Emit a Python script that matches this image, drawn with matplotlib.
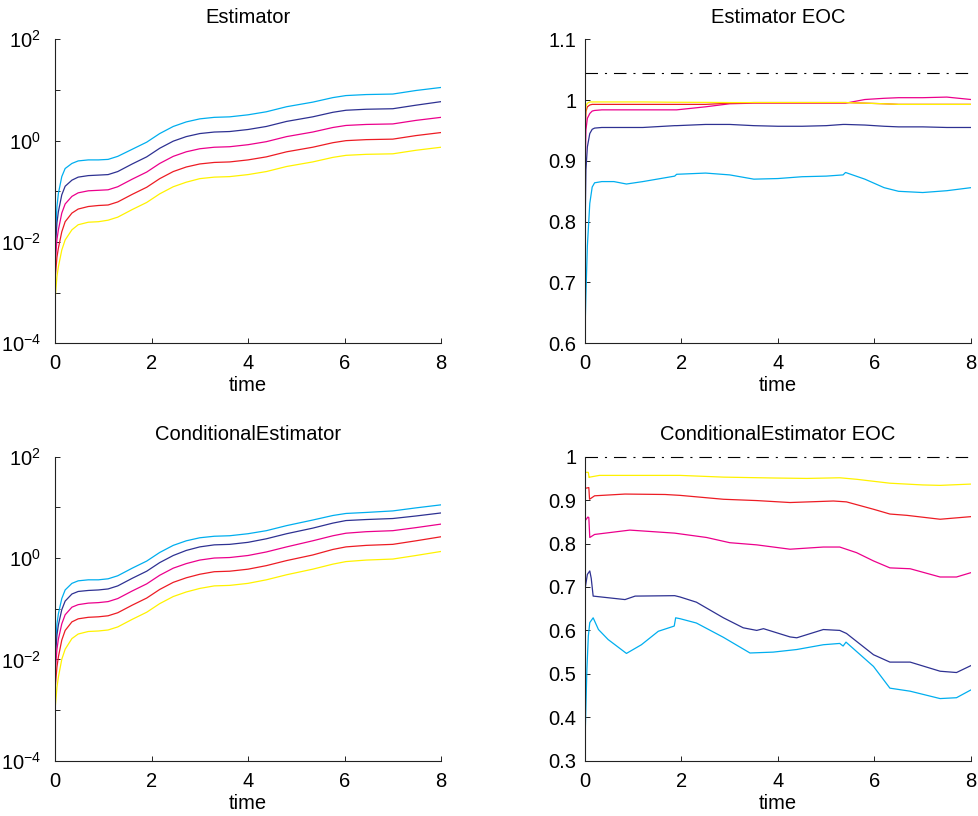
import numpy as np
import matplotlib
matplotlib.use('Agg')
import matplotlib.pyplot as plt
from matplotlib.ticker import FixedLocator, FuncFormatter, NullFormatter

plt.rcParams['font.family'] = ['Liberation Sans', 'DejaVu Sans']
plt.rcParams['mathtext.fontset'] = 'custom'
plt.rcParams['mathtext.rm'] = 'Liberation Sans'
plt.rcParams['mathtext.it'] = 'Liberation Sans:italic'
plt.rcParams['lines.scale_dashes'] = False

colors = ['#00AEEF', '#2E3192', '#EC008C', '#ED1C24', '#FFF200']
FS = 14.5

# ---- log-scale panels: time grid and log10 of the estimator values ----
t_log = [0, 0.04, 0.07, 0.14, 0.21, 0.35, 0.48, 0.69, 0.9, 1.1, 1.3, 1.6, 1.9, 2.17, 2.45,
         2.72, 3.0, 3.3, 3.62, 4.0, 4.38, 4.8, 5.34, 5.76, 6.03, 6.45, 7.0, 7.48, 8.0]

est_cyan = [-2.03, -1.30, -1.04, -0.71, -0.55, -0.45, -0.40, -0.38, -0.38, -0.37, -0.31, -0.17, -0.03, 0.14, 0.28,
            0.37, 0.43, 0.46, 0.47, 0.51, 0.57, 0.67, 0.76, 0.85, 0.89, 0.91, 0.92, 0.99, 1.05]
est_navy = [-2.22, -1.62, -1.40, -1.07, -0.90, -0.78, -0.72, -0.69, -0.68, -0.67, -0.61, -0.46, -0.32, -0.15, -0.01,
            0.08, 0.14, 0.17, 0.18, 0.22, 0.28, 0.38, 0.47, 0.56, 0.60, 0.62, 0.63, 0.70, 0.77]
est_magenta = [-2.49, -1.95, -1.76, -1.43, -1.25, -1.10, -1.03, -0.99, -0.98, -0.97, -0.91, -0.76, -0.62, -0.45, -0.31,
               -0.22, -0.16, -0.13, -0.12, -0.08, -0.02, 0.08, 0.17, 0.26, 0.30, 0.32, 0.33, 0.40, 0.46]
est_red = [-2.75, -2.30, -2.12, -1.80, -1.60, -1.43, -1.35, -1.30, -1.28, -1.27, -1.21, -1.06, -0.92, -0.75, -0.61,
           -0.52, -0.46, -0.43, -0.42, -0.38, -0.32, -0.22, -0.13, -0.04, 0.00, 0.02, 0.03, 0.10, 0.16]
est_yellow = [-3.14, -2.68, -2.49, -2.16, -1.96, -1.76, -1.66, -1.61, -1.60, -1.57, -1.51, -1.36, -1.22, -1.05, -0.91,
              -0.82, -0.75, -0.72, -0.71, -0.67, -0.61, -0.51, -0.42, -0.33, -0.29, -0.27, -0.26, -0.19, -0.13]

cond_cyan = [-1.85, -1.30, -1.10, -0.80, -0.63, -0.50, -0.45, -0.43, -0.43, -0.41, -0.35, -0.20, -0.06, 0.11, 0.25,
             0.34, 0.40, 0.43, 0.44, 0.48, 0.54, 0.64, 0.75, 0.84, 0.88, 0.90, 0.93, 0.99, 1.05]
cond_navy = [-2.05, -1.52, -1.32, -1.02, -0.85, -0.71, -0.66, -0.64, -0.63, -0.61, -0.55, -0.40, -0.26, -0.09, 0.05,
             0.15, 0.22, 0.26, 0.27, 0.31, 0.38, 0.48, 0.59, 0.69, 0.74, 0.76, 0.78, 0.83, 0.89]
cond_magenta = [-2.30, -1.80, -1.60, -1.30, -1.12, -0.97, -0.92, -0.89, -0.88, -0.86, -0.80, -0.65, -0.51, -0.34, -0.20,
                -0.11, -0.04, 0.00, 0.01, 0.05, 0.12, 0.22, 0.34, 0.44, 0.49, 0.52, 0.54, 0.60, 0.67]
cond_red = [-2.60, -2.15, -1.95, -1.62, -1.43, -1.26, -1.20, -1.17, -1.16, -1.14, -1.08, -0.93, -0.79, -0.62, -0.48,
            -0.39, -0.32, -0.27, -0.26, -0.22, -0.15, -0.05, 0.06, 0.17, 0.22, 0.25, 0.27, 0.34, 0.42]
cond_yellow = [-3.00, -2.55, -2.35, -2.00, -1.80, -1.59, -1.50, -1.45, -1.44, -1.42, -1.36, -1.21, -1.07, -0.90, -0.76,
               -0.67, -0.60, -0.55, -0.54, -0.50, -0.43, -0.33, -0.22, -0.12, -0.07, -0.04, -0.02, 0.05, 0.13]

# ---- Estimator EOC ----
t_eoc = [0, 0.02, 0.05, 0.1, 0.15, 0.2, 0.35, 0.6, 0.86, 1.2, 1.86, 1.9, 2.5, 3.0, 3.5, 4.0, 4.5,
         5.0, 5.35, 5.4, 5.8, 6.2, 6.5, 7.0, 7.5, 8.0]
eoc_cyan = [0.615, 0.68, 0.76, 0.83, 0.857, 0.864, 0.866, 0.866, 0.862, 0.866, 0.875, 0.878, 0.880, 0.877, 0.870,
            0.871, 0.874, 0.875, 0.877, 0.881, 0.870, 0.856, 0.850, 0.848, 0.851, 0.856]
eoc_navy = [0.77, 0.885, 0.923, 0.945, 0.952, 0.954, 0.955, 0.955, 0.955, 0.955, 0.958, 0.958, 0.960, 0.960, 0.958,
            0.957, 0.957, 0.958, 0.960, 0.960, 0.959, 0.957, 0.956, 0.956, 0.955, 0.955]
eoc_magenta = [0.869, 0.951, 0.970, 0.978, 0.982, 0.983, 0.984, 0.984, 0.984, 0.984, 0.984, 0.984, 0.989, 0.994, 0.995,
               0.995, 0.995, 0.995, 0.995, 0.995, 1.001, 1.003, 1.004, 1.004, 1.005, 1.001]
eoc_red = [0.93, 0.981, 0.989, 0.992, 0.993, 0.993, 0.993, 0.993, 0.993, 0.993, 0.993, 0.993, 0.993, 0.995, 0.996,
           0.996, 0.996, 0.996, 0.996, 0.996, 0.995, 0.994, 0.993, 0.993, 0.993, 0.993]
eoc_yellow = [0.95, 0.99, 0.995, 0.997, 0.997, 0.997, 0.997, 0.997, 0.997, 0.997, 0.9965, 0.9965, 0.9963, 0.996, 0.996,
              0.996, 0.996, 0.996, 0.996, 0.996, 0.995, 0.994, 0.993, 0.993, 0.993, 0.993]
eoc_ref = 1.045

# ---- ConditionalEstimator EOC ----
c_t_yellow = [0, 0.07, 0.085, 0.1, 0.3, 0.8, 1.97, 2.87, 3.9, 4.6, 5.28, 5.63, 6.32, 7.0, 7.36, 8.0]
c_eoc_yellow = [0.964, 0.964, 0.952, 0.953, 0.957, 0.957, 0.957, 0.953, 0.951, 0.950, 0.9515, 0.948, 0.939, 0.935,
                0.934, 0.937]
c_t_red = [0, 0.08, 0.095, 0.2, 0.83, 1.66, 1.97, 2.87, 3.56, 4.25, 5.15, 5.42, 5.98, 6.32, 6.67, 7.36, 8.0]
c_eoc_red = [0.927, 0.929, 0.902, 0.910, 0.914, 0.913, 0.911, 0.902, 0.899, 0.8945, 0.898, 0.896, 0.879, 0.868,
             0.865, 0.856, 0.862]
c_t_magenta = [0, 0.06, 0.08, 0.1, 0.2, 0.93, 1.86, 2.52, 3.0, 3.56, 4.25, 4.94, 5.28, 5.63, 5.98, 6.32, 6.74,
               7.36, 7.7, 8.0]
c_eoc_magenta = [0.852, 0.861, 0.860, 0.814, 0.821, 0.831, 0.824, 0.814, 0.802, 0.797, 0.787, 0.792, 0.792, 0.779,
                 0.760, 0.744, 0.742, 0.723, 0.723, 0.733]
c_t_navy = [0, 0.05, 0.1, 0.13, 0.17, 0.83, 1.04, 1.86, 1.97, 2.31, 2.87, 3.28, 3.56, 3.7, 4.25, 4.39, 4.94, 5.28,
            5.42, 5.98, 6.32, 6.74, 7.36, 7.7, 8.0]
c_eoc_navy = [0.694, 0.729, 0.737, 0.72, 0.679, 0.671, 0.679, 0.680, 0.677, 0.665, 0.629, 0.606, 0.600, 0.604, 0.585,
              0.583, 0.602, 0.600, 0.593, 0.544, 0.527, 0.527, 0.506, 0.503, 0.519]
c_t_cyan = [0, 0.04, 0.07, 0.1, 0.17, 0.28, 0.48, 0.86, 1.17, 1.52, 1.85, 1.88, 1.97, 2.31, 2.87, 3.42, 3.9, 4.39,
            4.94, 5.28, 5.35, 5.41, 5.98, 6.32, 6.74, 7.36, 7.7, 8.0]
c_eoc_cyan = [0.340, 0.510, 0.587, 0.618, 0.629, 0.602, 0.579, 0.547, 0.567, 0.598, 0.610, 0.629, 0.627, 0.617,
              0.584, 0.548, 0.550, 0.556, 0.567, 0.570, 0.564, 0.573, 0.517, 0.467, 0.460, 0.443, 0.445, 0.463]
c_eoc_ref = 1.0

fig = plt.figure(figsize=(9.79, 8.16), dpi=100)
ax1 = fig.add_axes([0.0562, 0.5793, 0.3943, 0.3725])
ax2 = fig.add_axes([0.5975, 0.5793, 0.3943, 0.3725])
ax3 = fig.add_axes([0.0562, 0.0678, 0.3943, 0.3725])
ax4 = fig.add_axes([0.5975, 0.0678, 0.3943, 0.3725])


def style(ax, title, ypad):
    for s in ['top', 'right']:
        ax.spines[s].set_visible(False)
    for s in ['left', 'bottom']:
        ax.spines[s].set_linewidth(0.8)
        ax.spines[s].set_color('#222222')
    ax.tick_params(which='both', direction='in', length=3.5, width=0.7, labelsize=FS, color='#222222')
    ax.tick_params(axis='x', pad=8)
    ax.tick_params(axis='y', pad=ypad)
    ax.set_xlim(0, 8)
    ax.set_xticks([0, 2, 4, 6, 8])
    ax.set_xlabel('time', fontsize=FS, labelpad=2)
    ax.set_title(title, fontsize=FS, pad=12)


def log_panel(ax, title, series):
    for vals, c in zip(series, colors):
        ax.semilogy(t_log, 10.0 ** np.array(vals), color=c, lw=0.9)
    ax.set_ylim(1e-4, 1e2)
    ax.yaxis.set_major_locator(FixedLocator([1e-4, 1e-2, 1e0, 1e2]))
    ax.yaxis.set_minor_locator(FixedLocator([1e-3, 1e-1, 1e1]))
    ax.yaxis.set_minor_formatter(NullFormatter())
    ax.yaxis.set_major_formatter(FuncFormatter(
        lambda v, p: r'$\mathdefault{10^{%d}}$' % int(round(np.log10(v)))))
    style(ax, title, 10)


log_panel(ax1, 'Estimator', [est_cyan, est_navy, est_magenta, est_red, est_yellow])
log_panel(ax3, 'ConditionalEstimator', [cond_cyan, cond_navy, cond_magenta, cond_red, cond_yellow])

# Estimator EOC
ax2.plot([0, 8], [eoc_ref, eoc_ref], color='black', lw=0.8, dashes=[9, 5, 1.5, 5])
for vals, c in zip([eoc_cyan, eoc_navy, eoc_magenta, eoc_red, eoc_yellow], colors):
    ax2.plot(t_eoc, vals, color=c, lw=0.9)
ax2.set_ylim(0.6, 1.1)
ax2.set_yticks([0.6, 0.7, 0.8, 0.9, 1.0, 1.1])
ax2.yaxis.set_major_formatter(FuncFormatter(lambda v, p: '%g' % round(v, 2)))
style(ax2, 'Estimator EOC', 6)

# ConditionalEstimator EOC
ax4.plot([0, 8], [c_eoc_ref, c_eoc_ref], color='black', lw=0.8, dashes=[9, 5, 1.5, 5], clip_on=False)
for tt, vals, c in zip([c_t_cyan, c_t_navy, c_t_magenta, c_t_red, c_t_yellow],
                       [c_eoc_cyan, c_eoc_navy, c_eoc_magenta, c_eoc_red, c_eoc_yellow], colors):
    ax4.plot(tt, vals, color=c, lw=0.9)
ax4.set_ylim(0.3, 1.0)
ax4.set_yticks([0.3, 0.4, 0.5, 0.6, 0.7, 0.8, 0.9, 1.0])
ax4.yaxis.set_major_formatter(FuncFormatter(lambda v, p: '%g' % round(v, 2)))
style(ax4, 'ConditionalEstimator EOC', 6)

fig.savefig('out.png', dpi=100)
